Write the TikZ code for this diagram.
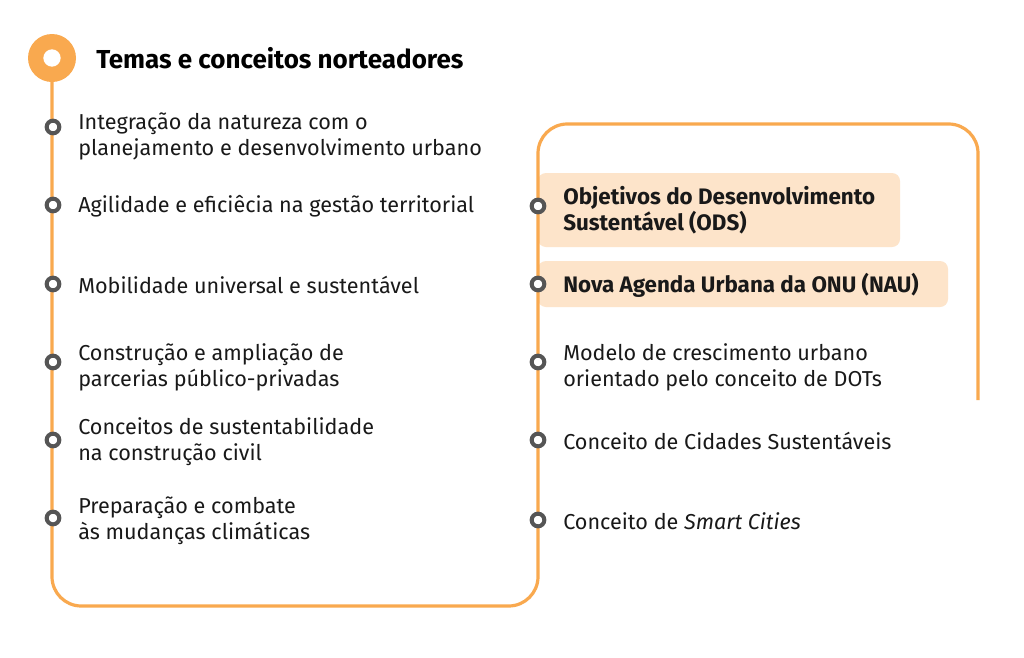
\documentclass[tikz,border=0pt]{standalone}
\usepackage{fontspec}
\setmainfont{Fira Sans}
\usetikzlibrary{positioning}
\definecolor{laranja}{HTML}{F9A94F}
\definecolor{pessego}{HTML}{FDE4CA}
\definecolor{cinza}{HTML}{555555}
\tikzset{item/.style={anchor=west,align=left,inner sep=0pt,text=black!90,font=\fontsize{16.2}{19.5}\selectfont}}
\tikzset{marco/.style={circle,draw=cinza,fill=white,line width=3pt,inner sep=0pt,minimum size=9.5pt}}
\tikzset{trilha/.style={draw=laranja,line width=2.4pt,rounded corners=22pt}}
\tikzset{destaque/.style={fill=pessego,rounded corners=6pt}}

\begin{document}
\begin{tikzpicture}[x=0.75pt, y=-0.75pt]
    \useasboundingbox[fill=white] (0,0) rectangle (1024,657);
    % caixas de destaque
    \fill[destaque] (538,173) rectangle (900,247);
    \fill[destaque] (538,261) rectangle (948,307);
    % trilha
    \coordinate (inicio) at (52,58);
    \coordinate (fim) at (978,400);
    \draw[trilha] (inicio) -- (52,606) -- (538,606) -- (538,124) -- (978,124) -- (fim);
    \node[circle,fill=laranja,minimum size=36pt,inner sep=0pt] (topo) at (inicio) {};
    \node[circle,fill=white,minimum size=13pt,inner sep=0pt] at (topo) {};
    \node[anchor=west,inner sep=0pt,font=\fontsize{19.5}{22}\selectfont\bfseries] (titulo) at (96,58) {Temas e conceitos norteadores};
    % coluna da esquerda
    \node[marco] (e1) at (53,127) {};
    \node[marco] (e2) at (53,205) {};
    \node[marco] (e3) at (53,284) {};
    \node[marco] (e4) at (53,362) {};
    \node[marco] (e5) at (53,440) {};
    \node[marco] (e6) at (53,518) {};
    \node[item] (t1) at (78,136) {Integração da natureza com o\\planejamento e desenvolvimento urbano};
    \node[item] (t2) at (78,206) {Agilidade e eficiêcia na gestão territorial};
    \node[item] (t3) at (78,285) {Mobilidade universal e sustentável};
    \node[item] (t4) at (78,367) {Construção e ampliação de\\parcerias público-privadas};
    \node[item] (t5) at (78,442) {Conceitos de sustentabilidade\\na construção civil};
    \node[item] (t6) at (78,521) {Preparação e combate\\às mudanças climáticas};
    % coluna da direita
    \node[marco] (d1) at (538,206) {};
    \node[marco] (d2) at (538,284) {};
    \node[marco] (d3) at (538,362) {};
    \node[marco] (d4) at (538,440) {};
    \node[marco] (d5) at (538,520) {};
    \node[item,font=\fontsize{16.8}{19.5}\selectfont\bfseries] (s1) at (563,210) {Objetivos do Desenvolvimento\\Sustentável (ODS)};
    \node[item,font=\fontsize{16.8}{19.5}\selectfont\bfseries] (s2) at (563,285) {Nova Agenda Urbana da ONU (NAU)};
    \node[item] (s3) at (563,367) {Modelo de crescimento urbano\\orientado pelo conceito de DOTs};
    \node[item] (s4) at (563,441) {Conceito de Cidades Sustentáveis};
    \node[item] (s5) at (563,521) {Conceito de \textit{Smart Cities}};
\end{tikzpicture}
\end{document}
